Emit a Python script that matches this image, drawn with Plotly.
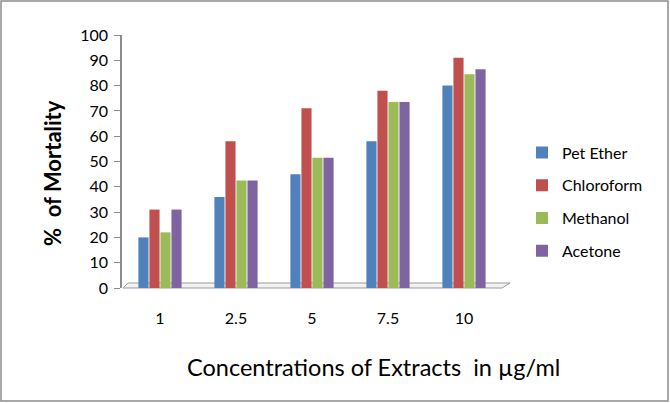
import plotly.graph_objects as go

categories = ["1", "2.5", "5", "7.5", "10"]
pet_ether = [20, 36, 45, 58, 80]
chloroform = [31, 58, 71, 78, 91]
methanol = [22, 42.5, 51.5, 73.5, 84.5]
acetone = [31, 42.5, 51.5, 73.5, 86.5]

series = [
    ("Pet Ether", pet_ether, "#4F81BD"),
    ("Chloroform", chloroform, "#C0504D"),
    ("Methanol", methanol, "#9BBB59"),
    ("Acetone", acetone, "#8064A2"),
]

W, H = 670, 403
ML, MR, MT, MB = 122, 168, 35, 115
pw = W - ML - MR
ph = H - MT - MB

fig = go.Figure()
for i, (name, vals, col) in enumerate(series):
    fig.add_trace(go.Bar(
        x=categories, y=vals, name=name, legendgroup=name,
        marker=dict(color=col, line=dict(color=col, width=0)),
    ))

FONT = "Lato, 'Open Sans', sans-serif"

def px_to_paper_x(px):
    return (px - ML) / pw

def px_to_paper_y(py):
    return (H - MB - py) / ph

# outer border
shapes = [
    dict(type="rect", xref="paper", yref="paper",
         x0=px_to_paper_x(1), x1=px_to_paper_x(W - 2),
         y0=px_to_paper_y(H - 2), y1=px_to_paper_y(1),
         line=dict(color="#8c8c8c", width=1.5), layer="below"),
]
# floor of the 3D chart
fx = [px_to_paper_x(v) for v in (123, 502, 510, 128)]
fy = [px_to_paper_y(v) for v in (288, 288, 283, 283)]
path = "M {} {} L {} {} L {} {} L {} {} Z".format(fx[0], fy[0], fx[1], fy[1], fx[2], fy[2], fx[3], fy[3])
shapes.append(dict(type="path", xref="paper", yref="paper", path=path,
                   line=dict(color="#9a9a9a", width=1), fillcolor="#f2f2f2", layer="below"))

annotations = [
    dict(text="Concentrations of Extracts  in µg/ml", xref="paper", yref="paper",
         x=px_to_paper_x(373), y=px_to_paper_y(367), xanchor="center", yanchor="middle",
         showarrow=False, font=dict(size=23.5, family=FONT, color="black")),
    dict(text="<b>%  of Mortality</b>", xref="paper", yref="paper", textangle=-90,
         x=px_to_paper_x(52), y=px_to_paper_y(173), xanchor="center", yanchor="middle",
         showarrow=False, font=dict(size=22, family=FONT, color="black")),
]

fig.update_layout(
    width=W, height=H,
    margin=dict(l=ML, r=MR, t=MT, b=MB),
    paper_bgcolor="white", plot_bgcolor="white",
    barmode="group", bargap=0.42, bargroupgap=0.08,
    font=dict(family=FONT, size=15, color="black"),
    shapes=shapes,
    annotations=annotations,
    xaxis=dict(
        type="category", showgrid=False, showline=False, zeroline=False,
        ticks="", ticklabelstandoff=19,
        tickfont=dict(size=16, family=FONT),
    ),
    yaxis=dict(
        range=[0, 100], dtick=10, showgrid=False, zeroline=False,
        showline=True, linecolor="#8c8c8c", linewidth=1.5,
        ticks="outside", ticklen=6, tickcolor="#8c8c8c",
        ticklabelstandoff=3,
        tickfont=dict(size=16, family=FONT),
    ),
    legend=dict(
        x=px_to_paper_x(522), xanchor="left",
        y=px_to_paper_y(202), yanchor="middle",
        font=dict(size=16, family=FONT),
        tracegroupgap=9, traceorder="grouped",
        bgcolor="rgba(0,0,0,0)",
    ),
)

fig.write_html("out.html", config={"displayModeBar": False},
               post_script="document.body.style.margin='0';")
